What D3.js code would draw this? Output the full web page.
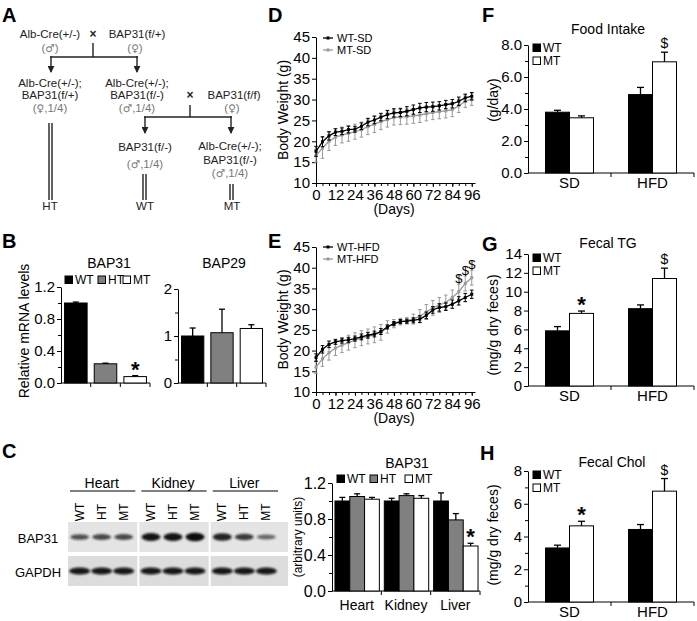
<!DOCTYPE html>
<html><head><meta charset="utf-8">
<script src="https://cdn.jsdelivr.net/npm/d3@7"></script>
<style>body{margin:0;background:#fff}</style>
</head><body><svg id="fig" width="697" height="621"></svg>
<script>
// ---------------- DATA ----------------
const genotypes = ["WT", "HT", "MT"];
const genoFills = ["#000", "#808080", "#fff"];
const bap31mRNA = [1.00, 0.24, 0.08];
const bap31mRNAErr = [0.012, 0.008, 0.012];
const bap31mRNASig = ["", "", "*"];
const bap29mRNA = [1.00, 1.07, 1.16];
const bap29mRNAErr = [0.17, 0.50, 0.08];
const bap29mRNASig = ["", "", ""];

const tissues = ["Heart", "Kidney", "Liver"];
const bap31BandInt = [[0.55, 0.6, 0.6], [0.95, 0.95, 1.0], [0.85, 0.7, 0.4]];
const gapdhBandInt = [[1, 1, 1], [1, 1, 1], [1, 1, 1]];
const protWT = [1.00, 1.00, 1.00];
const protWTErr = [0.04, 0.03, 0.09];
const protHT = [1.05, 1.06, 0.79];
const protHTErr = [0.03, 0.02, 0.07];
const protMT = [1.02, 1.03, 0.50];
const protMTErr = [0.02, 0.03, 0.03];
const protMTSig = ["", "", "*"];

const days = [0, 4, 8, 12, 16, 20, 24, 28, 32, 36, 40, 44, 48, 52, 56, 60, 64, 68, 72, 76, 80, 84, 88, 92, 96];
const dayLabels = [0, 12, 24, 36, 48, 60, 72, 84, 96];
const bwTicks = [10, 15, 20, 25, 30, 35, 40, 45];
const wtSD = [17.6, 19.9, 21.3, 22.2, 22.4, 22.8, 22.9, 23.6, 24.6, 25.1, 25.8, 26.4, 26.8, 26.9, 27.2, 27.6, 28.0, 28.2, 28.3, 28.5, 28.8, 29.0, 29.6, 30.4, 30.8];
const wtSDErr = [1.2, 1.2, 1.0, 0.8, 0.8, 0.8, 0.7, 0.8, 0.9, 0.9, 0.9, 1.0, 1.0, 1.0, 1.1, 1.1, 1.1, 1.1, 1.1, 1.0, 1.0, 1.0, 1.0, 0.9, 0.9];
const mtSD = [16.5, 18.4, 20.0, 21.0, 21.5, 21.9, 22.3, 22.8, 23.5, 24.1, 24.7, 25.2, 25.7, 25.8, 25.9, 26.1, 26.3, 26.6, 26.9, 27.1, 27.3, 27.6, 28.5, 29.6, 30.1];
const mtSDErr = [1.5, 2.5, 2.2, 2.0, 1.9, 1.9, 1.8, 1.8, 1.9, 2.0, 1.9, 1.8, 1.8, 1.8, 1.8, 1.8, 1.8, 1.7, 1.7, 1.7, 1.7, 1.7, 1.6, 1.5, 1.5];
const wtHFD = [18.3, 20.3, 21.5, 22.1, 22.4, 22.6, 22.9, 23.3, 23.7, 24.0, 24.6, 25.7, 26.5, 27.0, 27.1, 27.3, 27.6, 28.5, 29.8, 30.4, 30.6, 31.2, 32.0, 32.8, 33.6];
const wtHFDErr = [0.9, 0.9, 0.8, 0.6, 0.6, 0.6, 0.6, 0.7, 0.7, 0.7, 0.7, 0.5, 0.5, 0.5, 0.5, 0.6, 0.8, 0.8, 0.8, 0.9, 0.9, 1.0, 1.0, 1.0, 1.0];
const mtHFD = [16.0, 18.0, 19.5, 20.6, 21.3, 21.9, 22.5, 23.0, 23.4, 23.8, 24.4, 25.7, 26.5, 27.0, 27.2, 27.6, 28.3, 29.3, 30.3, 31.0, 31.6, 32.8, 34.2, 36.2, 37.6];
const mtHFDErr = [1.5, 1.8, 1.8, 1.8, 1.8, 1.8, 1.8, 1.8, 1.8, 1.9, 1.9, 1.5, 1.0, 0.8, 0.8, 1.2, 1.6, 1.8, 1.8, 1.8, 1.8, 1.8, 1.8, 1.8, 1.8];
const hfdSigDays = [88, 92, 96];

const diets = ["SD", "HFD"];
const dietSeries = ["WT", "MT"];
const foodWT = [3.80, 4.90];
const foodWTErr = [0.12, 0.45];
const foodMT = [3.45, 6.95];
const foodMTErr = [0.12, 0.60];
const foodMTSig = ["", "$"];
const foodTicks = [0, 2, 4, 6, 8];
const tgWT = [5.85, 8.20];
const tgWTErr = [0.45, 0.40];
const tgMT = [7.70, 11.40];
const tgMTErr = [0.25, 1.10];
const tgMTSig = ["*", "$"];
const tgTicks = [0, 2, 4, 6, 8, 10, 12, 14];
const cholWT = [3.30, 4.43];
const cholWTErr = [0.17, 0.30];
const cholMT = [4.65, 6.77];
const cholMTErr = [0.28, 0.77];
const cholMTSig = ["*", "$"];
const cholTicks = [0, 2, 4, 6, 8];

// ---------------- HELPERS ----------------
const FONT = "'Liberation Sans', Arial, Helvetica, sans-serif";
const SYMFONT = "'DejaVu Sans', sans-serif";
const svg = d3.select("#fig");
svg.append("rect").attr("width", 697).attr("height", 621).attr("fill", "#fff");

function label(g, x, y, s, o = {}) {
  const t = g.append("text").attr("x", x).attr("y", y).text(s)
    .attr("font-family", o.family || FONT).attr("font-size", o.size || 12)
    .attr("font-weight", o.weight || "normal").attr("text-anchor", o.anchor || "middle")
    .attr("fill", o.fill || "#000");
  if (o.rotate) t.attr("transform", `rotate(-90,${x},${y})`);
  return t;
}
function leftAxis(g, y, x, majors, fmt, minors, fs = 15) {
  const a = g.append("g").attr("transform", `translate(${x},0)`)
    .call(d3.axisLeft(y).tickValues(majors).tickFormat(fmt).tickSize(4).tickSizeOuter(0).tickPadding(2));
  if (minors) {
    a.append("g").call(d3.axisLeft(y).tickValues(minors).tickFormat(() => "").tickSize(3).tickSizeOuter(0))
      .select(".domain").remove();
  }
  a.attr("font-family", FONT).attr("font-size", fs);
  a.selectAll("path, line").attr("stroke", "#000").attr("stroke-width", 1);
  a.selectAll("text").attr("fill", "#000");
  return a;
}
function bandBottom(g, xb, y0, labY, fs) {
  const [r0, r1] = xb.range();
  g.append("line").attr("x1", r0).attr("x2", r1).attr("y1", y0).attr("y2", y0).attr("stroke", "#000");
  xb.domain().forEach(d => {
    const xe = xb(d) + xb.step();
    g.append("line").attr("x1", xe).attr("x2", xe).attr("y1", y0).attr("y2", y0 + 4).attr("stroke", "#000");
    if (labY) label(g, xb(d) + xb.bandwidth() / 2, labY, d, { size: fs });
  });
}
function bar(g, x, w, y, v, e, fill, sig, capHalf) {
  g.append("rect").attr("x", x).attr("y", y(v)).attr("width", w).attr("height", y(0) - y(v))
    .attr("fill", fill).attr("stroke", "#000").attr("stroke-width", 1);
  const cx = x + w / 2, yt = y(v + e);
  g.append("line").attr("x1", cx).attr("x2", cx).attr("y1", y(v)).attr("y2", yt).attr("stroke", "#000").attr("stroke-width", 1.3);
  g.append("line").attr("x1", cx - capHalf).attr("x2", cx + capHalf).attr("y1", yt).attr("y2", yt).attr("stroke", "#000").attr("stroke-width", 1.3);
  if (sig === "*") label(g, cx, yt + 1, "*", { size: 22, weight: "bold" });
  else if (sig === "$") label(g, cx, yt - 4, "$", { size: 14 });
}
function legendSwatch(g, x, y, fill, text, fs) {
  g.append("rect").attr("x", x).attr("y", y - 4).attr("width", 7.5).attr("height", 7.5)
    .attr("fill", fill).attr("stroke", "#000").attr("stroke-width", 1);
  label(g, x + 10, y + 4, text, { size: fs, anchor: "start" });
}
function panelLetter(x, y, s) { label(svg, x, y, s, { size: 20, weight: "bold", anchor: "start" }); }

// ---------------- PANEL A ----------------
const gA = svg.append("g");
const defs = svg.append("defs");
defs.append("marker").attr("id", "arr").attr("viewBox", "0 0 8 8").attr("refX", 7).attr("refY", 4)
  .attr("markerWidth", 7).attr("markerHeight", 7).attr("markerUnits", "userSpaceOnUse").attr("orient", "auto")
  .append("path").attr("d", "M0,0 L8,4 L0,8 z").attr("fill", "#222");
defs.append("filter").attr("id", "blur").attr("x", "-30%").attr("y", "-100%").attr("width", "160%").attr("height", "300%")
  .append("feGaussianBlur").attr("stdDeviation", 0.9);

panelLetter(2, 22, "A");
const AT = "#222", AG = "#777", AFS = 11.5;
function aText(x, y, s) { label(gA, x, y, s, { size: AFS, fill: AT }); }
function aSym(x, y, pre, sym, post) {
  const t = label(gA, x, y, "", { size: AFS, fill: AG });
  t.append("tspan").text(pre);
  t.append("tspan").attr("font-family", SYMFONT).attr("font-size", 10.5).text(sym);
  t.append("tspan").text(post);
}
function aLine(x1, y1, x2, y2, arrow) {
  const l = gA.append("line").attr("x1", x1).attr("y1", y1).attr("x2", x2).attr("y2", y2)
    .attr("stroke", "#222").attr("stroke-width", 1.4);
  if (arrow) l.attr("marker-end", "url(#arr)");
}
aText(50, 38, "Alb-Cre(+/-)");
label(gA, 93, 38, "×", { size: 12, weight: "bold", fill: AT });
aText(137, 38, "BAP31(f/+)");
aSym(50, 52, "(", "♂", ")");
aSym(135, 52, "(", "♀", ")");
aLine(93, 43, 93, 57); aLine(50, 57, 138, 57);
aLine(51, 56.3, 51, 72, true); aLine(137, 56.3, 137, 72, true);
aText(50, 86.5, "Alb-Cre(+/-);"); aText(50, 99, "BAP31(f/+)"); aSym(50, 111.5, "(", "♀", ",1/4)");
aText(137, 86.5, "Alb-Cre(+/-);"); aText(137, 99, "BAP31(f/-)"); aSym(137, 111.5, "(", "♂", ",1/4)");
label(gA, 190, 99, "×", { size: 12, weight: "bold", fill: AT });
aText(234, 99, "BAP31(f/f)"); aSym(232, 111.5, "(", "♀", ")");
aLine(190, 105, 190, 117); aLine(144, 117, 232, 117);
aLine(145, 116.3, 145, 133, true); aLine(231, 116.3, 231, 133, true);
aText(145, 151, "BAP31(f/-)"); aSym(145, 168, "(", "♂", ",1/4)");
aText(230, 150, "Alb-Cre(+/-);"); aText(230, 163.5, "BAP31(f/-)"); aSym(230, 177, "(", "♂", ",1/4)");
[[49, 52, 123], [143, 146, 174], [230, 233, 184]].forEach(([a, b, t]) => {
  aLine(a, t, a, 200); aLine(b, t, b, 200);
});
aText(50, 210, "HT"); aText(145, 210, "WT"); aText(232, 210, "MT");

// ---------------- PANEL B ----------------
const gB = svg.append("g");
panelLetter(2, 248, "B");
label(gB, 109, 268, "BAP31", { size: 14 });
label(gB, 224, 268, "BAP29", { size: 14 });
[[65, 0], [98, 1], [123, 2]].forEach(([x, i]) => legendSwatch(gB, x, 280, genoFills[i], genotypes[i], 12));
label(gB, 29, 331, "Relative mRNA levels", { size: 14, rotate: true });
const xB1 = d3.scaleBand().domain(genotypes).range([61, 150]);
const yB1 = d3.scaleLinear().domain([0, 1.2]).range([383, 287]);
leftAxis(gB, yB1, 61, [0, 0.4, 0.8, 1.2], d3.format(".1f"), [0.2, 0.6, 1.0]);
bandBottom(gB, xB1, 383);
genotypes.forEach((d, i) => bar(gB, xB1(d) + xB1.bandwidth() * 0.12, xB1.bandwidth() * 0.76, yB1,
  bap31mRNA[i], bap31mRNAErr[i], genoFills[i], bap31mRNASig[i], 3));
const xB2 = d3.scaleBand().domain(genotypes).range([178, 266]);
const yB2 = d3.scaleLinear().domain([0, 2]).range([383, 289]);
leftAxis(gB, yB2, 178, [0, 1, 2], d3.format("d"), [0.5, 1.5]);
bandBottom(gB, xB2, 383);
genotypes.forEach((d, i) => bar(gB, xB2(d) + xB2.bandwidth() * 0.12, xB2.bandwidth() * 0.76, yB2,
  bap29mRNA[i], bap29mRNAErr[i], genoFills[i], bap29mRNASig[i], 3));

// ---------------- PANEL C (blot) ----------------
const gC = svg.append("g");
panelLetter(2, 458, "C");
const xBlot = d3.scaleBand().domain(tissues).range([66, 280]);
const xLane = d3.scaleBand().domain(genotypes).range([-33, 33]);
const bandH = d3.scaleLinear().domain([0, 1]).range([1.2, 4.2]);
const bandO = d3.scaleLinear().domain([0, 1]).range([0.3, 1]);
tissues.forEach((t, ti) => {
  const x0 = xBlot(t), bw = xBlot.bandwidth(), cx = x0 + bw / 2;
  label(gC, cx, 488, t, { size: 14 });
  gC.append("line").attr("x1", x0 + 4).attr("x2", x0 + bw - 2).attr("y1", 491).attr("y2", 491).attr("stroke", "#000").attr("stroke-width", 1.2);
  const stripW = bw - 2 + (ti === tissues.length - 1 ? 8 : 0);
  [[522, 30, "#e4e4e4"], [556, 30, "#dcdcdc"]].forEach(([sy, sh, c]) => {
    gC.append("rect").attr("x", x0 + 2).attr("y", sy).attr("width", stripW).attr("height", sh).attr("fill", c);
  });
  genotypes.forEach((gname, li) => {
    const lx = cx + xLane(gname) + xLane.bandwidth() / 2;
    label(gC, lx + 4, 512, gname, { size: 12, rotate: true });
    const bi = bap31BandInt[ti][li];
    gC.append("ellipse").attr("cx", lx).attr("cy", 537).attr("rx", 9.5).attr("ry", bandH(bi))
      .attr("fill", "#111").attr("opacity", bandO(bi)).attr("filter", "url(#blur)");
    const gi = gapdhBandInt[ti][li];
    gC.append("ellipse").attr("cx", lx).attr("cy", 571).attr("rx", 10.5).attr("ry", 3.6 * gi)
      .attr("fill", "#0a0a0a").attr("opacity", 0.95 * gi).attr("filter", "url(#blur)");
  });
});
label(gC, 38, 543, "BAP31", { size: 13 });
label(gC, 38, 577, "GAPDH", { size: 13 });

// ---------------- PANEL C (bars) ----------------
label(gC, 407, 468, "BAP31", { size: 14 });
[[337, 0], [370, 1], [405, 2]].forEach(([x, i]) => legendSwatch(gC, x, 479, genoFills[i], genotypes[i], 12));
label(gC, 302, 537, "(arbitrary units)", { size: 12, rotate: true });
const xC0 = d3.scaleBand().domain(tissues).range([332, 480]);
const xC1 = d3.scaleBand().domain(genotypes).range([0, xC0.bandwidth() * 0.9]);
const yC = d3.scaleLinear().domain([0, 1.2]).range([591, 483]);
leftAxis(gC, yC, 332, [0, 0.4, 0.8, 1.2], d3.format(".1f"), [0.2, 0.6, 1.0], 16);
bandBottom(gC, xC0, 591, 610, 14);
const protVals = [protWT, protHT, protMT], protErrs = [protWTErr, protHTErr, protMTErr];
tissues.forEach((t, ti) => {
  genotypes.forEach((gname, gi) => {
    const x = xC0(t) + xC0.bandwidth() * 0.06 + xC1(gname);
    bar(gC, x, xC1.bandwidth(), yC, protVals[gi][ti], protErrs[gi][ti], genoFills[gi],
      gi === 2 ? protMTSig[ti] : "", 3);
  });
});

// ---------------- PANELS D, E ----------------
function linePanel(g, y0, yTop, series, legendY, legendNames) {
  const x = d3.scaleLinear().domain([0, 98]).range([316, 475]);
  const y = d3.scaleLinear().domain([10, 45]).range([y0, yTop]);
  const ax = g.append("g").attr("transform", `translate(0,${y0})`)
    .call(d3.axisBottom(x).tickValues(dayLabels).tickFormat(d3.format("d")).tickSize(4).tickSizeOuter(0).tickPadding(2));
  ax.append("g").call(d3.axisBottom(x).tickValues(days).tickFormat(() => "").tickSize(3).tickSizeOuter(0)).select(".domain").remove();
  ax.attr("font-family", FONT).attr("font-size", 15);
  ax.selectAll("path, line").attr("stroke", "#000");
  ax.selectAll("text").attr("fill", "#000");
  leftAxis(g, y, 316, bwTicks, d3.format("d"));
  label(g, 394, y0 + 31, "(Days)", { size: 14 });
  label(g, 288, (y0 + yTop) / 2, "Body Weight (g)", { size: 14, rotate: true });
  series.forEach(s => {
    g.append("path").datum(s.vals)
      .attr("d", d3.line().x((d, i) => x(days[i])).y(d => y(d)))
      .attr("fill", "none").attr("stroke", s.color).attr("stroke-width", 1.3);
    s.vals.forEach((v, i) => {
      const cx = x(days[i]), e = s.errs[i];
      g.append("line").attr("x1", cx).attr("x2", cx).attr("y1", y(v - e)).attr("y2", y(v + e)).attr("stroke", s.color).attr("stroke-width", 1);
      [v - e, v + e].forEach(w => g.append("line").attr("x1", cx - 1.8).attr("x2", cx + 1.8).attr("y1", y(w)).attr("y2", y(w)).attr("stroke", s.color).attr("stroke-width", 1));
      g.append("rect").attr("x", cx - 1.5).attr("y", y(v) - 1.5).attr("width", 3).attr("height", 3).attr("fill", s.color);
    });
  });
  legendNames.forEach((nm, k) => {
    const s = series[series.length - 1 - k];
    const ly = legendY + k * 12;
    g.append("line").attr("x1", 323).attr("x2", 333).attr("y1", ly).attr("y2", ly).attr("stroke", s.color).attr("stroke-width", 1.3);
    g.append("rect").attr("x", 326.5).attr("y", ly - 1.5).attr("width", 3).attr("height", 3).attr("fill", s.color);
    label(g, 337, ly + 4, nm, { size: 11, anchor: "start" });
  });
  return { x, y };
}
const gD = svg.append("g");
panelLetter(268, 22, "D");
linePanel(gD, 183, 37, [
  { vals: mtSD, errs: mtSDErr, color: "#999" },
  { vals: wtSD, errs: wtSDErr, color: "#000" }
], 38, ["WT-SD", "MT-SD"]);
const gE = svg.append("g");
panelLetter(268, 248, "E");
const sE = linePanel(gE, 392, 247, [
  { vals: mtHFD, errs: mtHFDErr, color: "#999" },
  { vals: wtHFD, errs: wtHFDErr, color: "#000" }
], 247, ["WT-HFD", "MT-HFD"]);
hfdSigDays.forEach(d => {
  const i = days.indexOf(d);
  label(gE, sE.x(d), sE.y(mtHFD[i] + mtHFDErr[i]) - 1, "$", { size: 13 });
});

// ---------------- PANELS F, G, H ----------------
function dietPanel(g, y0, yTop, domainMax, ticks, fmt, minors, title, titleX, titleY, ylab, ylabY, wt, wtE, mt, mtE, mtSig, legY) {
  const x0 = d3.scaleBand().domain(diets).range([528, 694]);
  const x1 = d3.scaleBand().domain(dietSeries).range([0, 48]);
  const y = d3.scaleLinear().domain([0, domainMax]).range([y0, yTop]);
  leftAxis(g, y, 528, ticks, fmt, minors);
  bandBottom(g, x0, y0, y0 + 14.5, 15);
  label(g, titleX, titleY, title, { size: 14 });
  label(g, 498, ylabY, ylab, { size: 14, rotate: true });
  diets.forEach((d, i) => {
    const off = x0(d) + (x0.bandwidth() - 48) / 2;
    bar(g, off + x1("WT"), x1.bandwidth(), y, wt[i], wtE[i], "#000", "", 3.5);
    bar(g, off + x1("MT"), x1.bandwidth(), y, mt[i], mtE[i], "#fff", mtSig[i], 3.5);
  });
  legendSwatch(g, 533, legY, "#000", "WT", 12);
  legendSwatch(g, 533, legY + 13, "#fff", "MT", 12);
}
const gF = svg.append("g");
panelLetter(482, 22, "F");
dietPanel(gF, 173, 45, 8, foodTicks, d3.format(".1f"), [1, 3, 5, 7], "Food Intake", 608, 34,
  "(g/day)", 100, foodWT, foodWTErr, foodMT, foodMTErr, foodMTSig, 48);
const gG = svg.append("g");
panelLetter(482, 251, "G");
dietPanel(gG, 386, 254, 14, tgTicks, d3.format("d"), null, "Fecal TG", 608, 248,
  "(mg/g dry feces)", 325, tgWT, tgWTErr, tgMT, tgMTErr, tgMTSig, 258);
const gH = svg.append("g");
panelLetter(480, 460, "H");
dietPanel(gH, 602, 471, 8, cholTicks, d3.format("d"), [1, 3, 5, 7], "Fecal Chol", 612, 467,
  "(mg/g dry feces)", 535, cholWT, cholWTErr, cholMT, cholMTErr, cholMTSig, 475);
</script>
</body></html>
